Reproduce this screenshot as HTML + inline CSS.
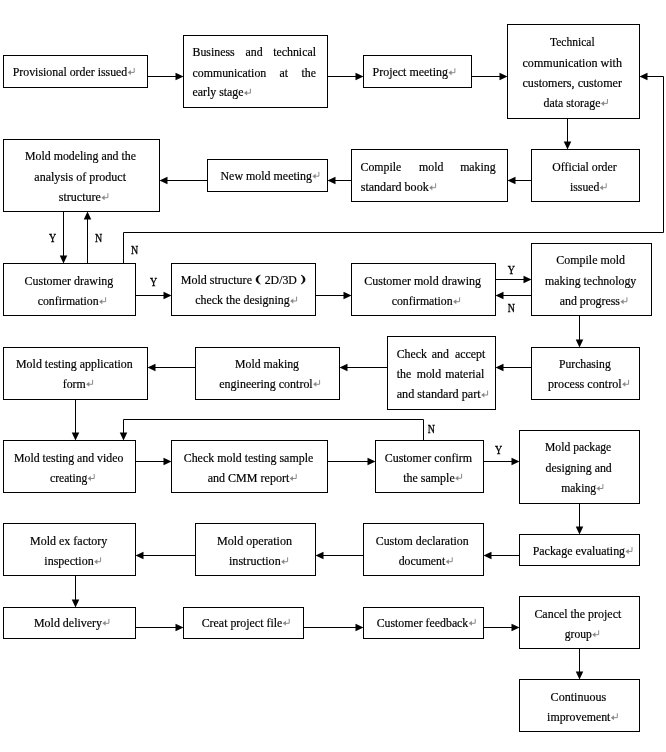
<!DOCTYPE html>
<html><head><meta charset="utf-8"><title>Flowchart</title>
<style>
html,body{margin:0;padding:0;background:#fff;}
body{width:666px;height:752px;overflow:hidden;}
svg{display:block;will-change:transform;}
text{font-family:"Liberation Serif",serif;font-size:13.5px;fill:#000;stroke:#000;stroke-width:0.2px;}
.yn{font-family:"Liberation Serif",serif;font-size:12.6px;stroke:#000;stroke-width:0.35px;}
</style></head><body>
<svg width="666" height="752" viewBox="0 0 666 752">
<rect width="666" height="752" fill="#fff"/>
<g fill="#fff" stroke="#000" stroke-width="1">
<rect x="3.5" y="55.5" width="144.0" height="32.0"/>
<rect x="183.5" y="35.5" width="144.0" height="72.0"/>
<rect x="363.5" y="55.5" width="108.0" height="32.0"/>
<rect x="507.5" y="24.5" width="132.0" height="94.0"/>
<rect x="3.5" y="139.5" width="156.0" height="72.0"/>
<rect x="207.5" y="159.5" width="120.0" height="32.0"/>
<rect x="351.5" y="149.5" width="156.0" height="52.0"/>
<rect x="531.5" y="149.5" width="108.0" height="52.0"/>
<rect x="3.5" y="263.5" width="132.0" height="52.0"/>
<rect x="171.5" y="263.5" width="144.0" height="52.0"/>
<rect x="351.5" y="263.5" width="144.0" height="52.0"/>
<rect x="531.5" y="243.5" width="120.0" height="72.0"/>
<rect x="3.5" y="347.5" width="144.0" height="52.0"/>
<rect x="195.5" y="347.5" width="144.0" height="52.0"/>
<rect x="387.5" y="336.5" width="108.0" height="73.0"/>
<rect x="531.5" y="347.5" width="108.0" height="52.0"/>
<rect x="3.5" y="440.5" width="132.0" height="52.0"/>
<rect x="171.5" y="440.5" width="156.0" height="52.0"/>
<rect x="375.5" y="440.5" width="108.0" height="52.0"/>
<rect x="519.5" y="430.5" width="120.0" height="73.0"/>
<rect x="3.5" y="523.5" width="132.0" height="52.0"/>
<rect x="195.5" y="523.5" width="120.0" height="52.0"/>
<rect x="363.5" y="523.5" width="120.0" height="52.0"/>
<rect x="519.5" y="534.5" width="120.0" height="31.0"/>
<rect x="3.5" y="607.5" width="132.0" height="31.0"/>
<rect x="183.5" y="607.5" width="120.0" height="31.0"/>
<rect x="363.5" y="607.5" width="120.0" height="31.0"/>
<rect x="519.5" y="596.5" width="120.0" height="52.0"/>
<rect x="519.5" y="679.5" width="120.0" height="52.0"/>
</g>
<g fill="none" stroke="#000" stroke-width="1">
<polyline points="147.50,76.50 180.50,76.50"/>
<polyline points="327.50,76.50 360.50,76.50"/>
<polyline points="471.50,76.50 504.50,76.50"/>
<polyline points="567.50,118.50 567.50,146.50"/>
<polyline points="531.50,180.50 510.50,180.50"/>
<polyline points="351.50,180.50 330.50,180.50"/>
<polyline points="207.50,180.50 162.50,180.50"/>
<polyline points="63.50,211.50 63.50,260.50"/>
<polyline points="87.50,263.50 87.50,214.50"/>
<polyline points="123.50,263.50 123.50,232.50 663.50,232.50 663.50,76.50 642.50,76.50"/>
<polyline points="135.50,295.50 168.50,295.50"/>
<polyline points="315.50,295.50 348.50,295.50"/>
<polyline points="495.50,279.50 528.50,279.50"/>
<polyline points="531.50,295.50 498.50,295.50"/>
<polyline points="579.50,315.50 579.50,344.50"/>
<polyline points="531.50,367.50 498.50,367.50"/>
<polyline points="387.50,367.50 342.50,367.50"/>
<polyline points="195.50,367.50 150.50,367.50"/>
<polyline points="75.50,399.50 75.50,437.50"/>
<polyline points="423.50,440.50 423.50,419.50 123.50,419.50 123.50,437.50"/>
<polyline points="135.50,461.50 168.50,461.50"/>
<polyline points="327.50,461.50 372.50,461.50"/>
<polyline points="483.50,461.50 516.50,461.50"/>
<polyline points="579.50,503.50 579.50,531.50"/>
<polyline points="519.50,555.50 486.50,555.50"/>
<polyline points="363.50,555.50 318.50,555.50"/>
<polyline points="195.50,555.50 138.50,555.50"/>
<polyline points="75.50,575.50 75.50,604.50"/>
<polyline points="135.50,627.50 180.50,627.50"/>
<polyline points="303.50,627.50 360.50,627.50"/>
<polyline points="483.50,627.50 516.50,627.50"/>
<polyline points="579.50,648.50 579.50,676.50"/>
</g>
<g fill="#000" stroke="none">
<polygon points="183.50,76.50 175.50,80.25 175.50,72.75"/>
<polygon points="363.50,76.50 355.50,80.25 355.50,72.75"/>
<polygon points="507.50,76.50 499.50,80.25 499.50,72.75"/>
<polygon points="567.50,149.50 563.75,141.50 571.25,141.50"/>
<polygon points="507.50,180.50 515.50,176.75 515.50,184.25"/>
<polygon points="327.50,180.50 335.50,176.75 335.50,184.25"/>
<polygon points="159.50,180.50 167.50,176.75 167.50,184.25"/>
<polygon points="63.50,263.50 59.75,255.50 67.25,255.50"/>
<polygon points="87.50,211.50 91.25,219.50 83.75,219.50"/>
<polygon points="639.50,76.50 647.50,72.75 647.50,80.25"/>
<polygon points="171.50,295.50 163.50,299.25 163.50,291.75"/>
<polygon points="351.50,295.50 343.50,299.25 343.50,291.75"/>
<polygon points="531.50,279.50 523.50,283.25 523.50,275.75"/>
<polygon points="495.50,295.50 503.50,291.75 503.50,299.25"/>
<polygon points="579.50,347.50 575.75,339.50 583.25,339.50"/>
<polygon points="495.50,367.50 503.50,363.75 503.50,371.25"/>
<polygon points="339.50,367.50 347.50,363.75 347.50,371.25"/>
<polygon points="147.50,367.50 155.50,363.75 155.50,371.25"/>
<polygon points="75.50,440.50 71.75,432.50 79.25,432.50"/>
<polygon points="123.50,440.50 119.75,432.50 127.25,432.50"/>
<polygon points="171.50,461.50 163.50,465.25 163.50,457.75"/>
<polygon points="375.50,461.50 367.50,465.25 367.50,457.75"/>
<polygon points="519.50,461.50 511.50,465.25 511.50,457.75"/>
<polygon points="579.50,534.50 575.75,526.50 583.25,526.50"/>
<polygon points="483.50,555.50 491.50,551.75 491.50,559.25"/>
<polygon points="315.50,555.50 323.50,551.75 323.50,559.25"/>
<polygon points="135.50,555.50 143.50,551.75 143.50,559.25"/>
<polygon points="75.50,607.50 71.75,599.50 79.25,599.50"/>
<polygon points="183.50,627.50 175.50,631.25 175.50,623.75"/>
<polygon points="363.50,627.50 355.50,631.25 355.50,623.75"/>
<polygon points="519.50,627.50 511.50,631.25 511.50,623.75"/>
<polygon points="579.50,679.50 575.75,671.50 583.25,671.50"/>
</g>
<g>
<text x="12.70" y="75.70" textLength="114.60" lengthAdjust="spacingAndGlyphs">Provisional order issued</text>
<g stroke="#8a8a8a" stroke-width="1" fill="none"><path d="M134.20,68.00 V72.40 H129.80"/></g><polygon fill="#8a8a8a" points="127.70,72.40 130.90,69.90 130.90,74.90"/>
<text x="192.50" y="56.00" textLength="42.17" lengthAdjust="spacingAndGlyphs">Business</text>
<text x="245.50" y="56.00" textLength="17.13" lengthAdjust="spacingAndGlyphs">and</text>
<text x="273.21" y="56.00" textLength="42.79" lengthAdjust="spacingAndGlyphs">technical</text>
<text x="192.50" y="76.70" textLength="73.76" lengthAdjust="spacingAndGlyphs">communication</text>
<text x="279.50" y="76.70" textLength="8.56" lengthAdjust="spacingAndGlyphs">at</text>
<text x="301.51" y="76.70" textLength="14.49" lengthAdjust="spacingAndGlyphs">the</text>
<text x="192.50" y="96.40" textLength="51.00" lengthAdjust="spacingAndGlyphs">early stage</text>
<g stroke="#8a8a8a" stroke-width="1" fill="none"><path d="M250.40,88.70 V93.10 H246.00"/></g><polygon fill="#8a8a8a" points="243.90,93.10 247.10,90.60 247.10,95.60"/>
<text x="372.50" y="76.00" textLength="75.50" lengthAdjust="spacingAndGlyphs">Project meeting</text>
<g stroke="#8a8a8a" stroke-width="1" fill="none"><path d="M454.90,68.30 V72.70 H450.50"/></g><polygon fill="#8a8a8a" points="448.40,72.70 451.60,70.20 451.60,75.20"/>
<text x="550.00" y="46.00" textLength="44.70" lengthAdjust="spacingAndGlyphs">Technical</text>
<text x="522.50" y="67.00" textLength="99.50" lengthAdjust="spacingAndGlyphs">communication with</text>
<text x="522.50" y="87.00" textLength="99.50" lengthAdjust="spacingAndGlyphs">customers, customer</text>
<text x="543.50" y="106.70" textLength="57.00" lengthAdjust="spacingAndGlyphs">data storage</text>
<g stroke="#8a8a8a" stroke-width="1" fill="none"><path d="M607.40,99.00 V103.40 H603.00"/></g><polygon fill="#8a8a8a" points="600.90,103.40 604.10,100.90 604.10,105.90"/>
<text x="25.00" y="160.00" textLength="111.00" lengthAdjust="spacingAndGlyphs">Mold modeling and the</text>
<text x="34.30" y="181.00" textLength="91.70" lengthAdjust="spacingAndGlyphs">analysis of product</text>
<text x="58.70" y="201.00" textLength="42.30" lengthAdjust="spacingAndGlyphs">structure</text>
<g stroke="#8a8a8a" stroke-width="1" fill="none"><path d="M107.90,193.30 V197.70 H103.50"/></g><polygon fill="#8a8a8a" points="101.40,197.70 104.60,195.20 104.60,200.20"/>
<text x="220.50" y="179.50" textLength="91.50" lengthAdjust="spacingAndGlyphs">New mold meeting</text>
<g stroke="#8a8a8a" stroke-width="1" fill="none"><path d="M318.90,171.80 V176.20 H314.50"/></g><polygon fill="#8a8a8a" points="312.40,176.20 315.60,173.70 315.60,178.70"/>
<text x="360.50" y="170.50" textLength="40.84" lengthAdjust="spacingAndGlyphs">Compile</text>
<text x="419.00" y="170.50" textLength="24.38" lengthAdjust="spacingAndGlyphs">mold</text>
<text x="460.13" y="170.50" textLength="35.57" lengthAdjust="spacingAndGlyphs">making</text>
<text x="360.70" y="191.00" textLength="68.00" lengthAdjust="spacingAndGlyphs">standard book</text>
<g stroke="#8a8a8a" stroke-width="1" fill="none"><path d="M435.60,183.30 V187.70 H431.20"/></g><polygon fill="#8a8a8a" points="429.10,187.70 432.30,185.20 432.30,190.20"/>
<text x="552.30" y="170.50" textLength="64.40" lengthAdjust="spacingAndGlyphs">Official order</text>
<text x="570.00" y="191.00" textLength="29.30" lengthAdjust="spacingAndGlyphs">issued</text>
<g stroke="#8a8a8a" stroke-width="1" fill="none"><path d="M606.20,183.30 V187.70 H601.80"/></g><polygon fill="#8a8a8a" points="599.70,187.70 602.90,185.20 602.90,190.20"/>
<text x="24.50" y="284.80" textLength="88.80" lengthAdjust="spacingAndGlyphs">Customer drawing</text>
<text x="37.70" y="305.00" textLength="61.00" lengthAdjust="spacingAndGlyphs">confirmation</text>
<g stroke="#8a8a8a" stroke-width="1" fill="none"><path d="M105.60,297.30 V301.70 H101.20"/></g><polygon fill="#8a8a8a" points="99.10,301.70 102.30,299.20 102.30,304.20"/>
<text x="180.70" y="284.00" textLength="71.30" lengthAdjust="spacingAndGlyphs">Mold structure</text>
<text x="264.70" y="284.00" textLength="32.20" lengthAdjust="spacingAndGlyphs">2D/3D</text>
<text x="195.30" y="304.30" textLength="94.40" lengthAdjust="spacingAndGlyphs">check the designing</text>
<g stroke="#8a8a8a" stroke-width="1" fill="none"><path d="M296.60,296.60 V301.00 H292.20"/></g><polygon fill="#8a8a8a" points="290.10,301.00 293.30,298.50 293.30,303.50"/>
<text x="364.30" y="284.80" textLength="116.70" lengthAdjust="spacingAndGlyphs">Customer mold drawing</text>
<text x="391.70" y="305.00" textLength="61.00" lengthAdjust="spacingAndGlyphs">confirmation</text>
<g stroke="#8a8a8a" stroke-width="1" fill="none"><path d="M459.60,297.30 V301.70 H455.20"/></g><polygon fill="#8a8a8a" points="453.10,301.70 456.30,299.20 456.30,304.20"/>
<text x="556.30" y="264.00" textLength="68.70" lengthAdjust="spacingAndGlyphs">Compile mold</text>
<text x="545.00" y="284.80" textLength="91.30" lengthAdjust="spacingAndGlyphs">making technology</text>
<text x="559.70" y="305.00" textLength="60.30" lengthAdjust="spacingAndGlyphs">and progress</text>
<g stroke="#8a8a8a" stroke-width="1" fill="none"><path d="M626.90,297.30 V301.70 H622.50"/></g><polygon fill="#8a8a8a" points="620.40,301.70 623.60,299.20 623.60,304.20"/>
<text x="16.00" y="367.70" textLength="116.70" lengthAdjust="spacingAndGlyphs">Mold testing application</text>
<text x="62.70" y="387.60" textLength="23.00" lengthAdjust="spacingAndGlyphs">form</text>
<g stroke="#8a8a8a" stroke-width="1" fill="none"><path d="M92.60,379.90 V384.30 H88.20"/></g><polygon fill="#8a8a8a" points="86.10,384.30 89.30,381.80 89.30,386.80"/>
<text x="235.00" y="367.70" textLength="64.00" lengthAdjust="spacingAndGlyphs">Mold making</text>
<text x="219.30" y="387.60" textLength="93.40" lengthAdjust="spacingAndGlyphs">engineering control</text>
<g stroke="#8a8a8a" stroke-width="1" fill="none"><path d="M319.60,379.90 V384.30 H315.20"/></g><polygon fill="#8a8a8a" points="313.10,384.30 316.30,381.80 316.30,386.80"/>
<text x="396.70" y="357.80" textLength="30.30" lengthAdjust="spacingAndGlyphs">Check</text>
<text x="431.70" y="357.80" textLength="17.13" lengthAdjust="spacingAndGlyphs">and</text>
<text x="455.02" y="357.80" textLength="30.28" lengthAdjust="spacingAndGlyphs">accept</text>
<text x="396.70" y="378.20" textLength="14.49" lengthAdjust="spacingAndGlyphs">the</text>
<text x="416.70" y="378.20" textLength="24.38" lengthAdjust="spacingAndGlyphs">mold</text>
<text x="445.35" y="378.20" textLength="38.85" lengthAdjust="spacingAndGlyphs">material</text>
<text x="396.70" y="398.30" textLength="84.00" lengthAdjust="spacingAndGlyphs">and standard part</text>
<g stroke="#8a8a8a" stroke-width="1" fill="none"><path d="M487.60,390.60 V395.00 H483.20"/></g><polygon fill="#8a8a8a" points="481.10,395.00 484.30,392.50 484.30,397.50"/>
<text x="559.00" y="367.70" textLength="51.70" lengthAdjust="spacingAndGlyphs">Purchasing</text>
<text x="548.00" y="387.60" textLength="73.70" lengthAdjust="spacingAndGlyphs">process control</text>
<g stroke="#8a8a8a" stroke-width="1" fill="none"><path d="M628.60,379.90 V384.30 H624.20"/></g><polygon fill="#8a8a8a" points="622.10,384.30 625.30,381.80 625.30,386.80"/>
<text x="14.00" y="461.80" textLength="109.30" lengthAdjust="spacingAndGlyphs">Mold testing and video</text>
<text x="50.00" y="481.80" textLength="37.30" lengthAdjust="spacingAndGlyphs">creating</text>
<g stroke="#8a8a8a" stroke-width="1" fill="none"><path d="M94.20,474.10 V478.50 H89.80"/></g><polygon fill="#8a8a8a" points="87.70,478.50 90.90,476.00 90.90,481.00"/>
<text x="183.70" y="461.80" textLength="129.60" lengthAdjust="spacingAndGlyphs">Check mold testing sample</text>
<text x="207.70" y="481.80" textLength="81.60" lengthAdjust="spacingAndGlyphs">and CMM report</text>
<g stroke="#8a8a8a" stroke-width="1" fill="none"><path d="M296.20,474.10 V478.50 H291.80"/></g><polygon fill="#8a8a8a" points="289.70,478.50 292.90,476.00 292.90,481.00"/>
<text x="384.70" y="461.80" textLength="87.30" lengthAdjust="spacingAndGlyphs">Customer confirm</text>
<text x="403.30" y="481.50" textLength="51.40" lengthAdjust="spacingAndGlyphs">the sample</text>
<g stroke="#8a8a8a" stroke-width="1" fill="none"><path d="M461.60,473.80 V478.20 H457.20"/></g><polygon fill="#8a8a8a" points="455.10,478.20 458.30,475.70 458.30,480.70"/>
<text x="545.00" y="451.00" textLength="66.30" lengthAdjust="spacingAndGlyphs">Mold package</text>
<text x="545.60" y="471.60" textLength="66.20" lengthAdjust="spacingAndGlyphs">designing and</text>
<text x="561.20" y="491.80" textLength="34.80" lengthAdjust="spacingAndGlyphs">making</text>
<g stroke="#8a8a8a" stroke-width="1" fill="none"><path d="M602.90,484.10 V488.50 H598.50"/></g><polygon fill="#8a8a8a" points="596.40,488.50 599.60,486.00 599.60,491.00"/>
<text x="30.00" y="545.00" textLength="77.30" lengthAdjust="spacingAndGlyphs">Mold ex factory</text>
<text x="44.30" y="565.00" textLength="49.40" lengthAdjust="spacingAndGlyphs">inspection</text>
<g stroke="#8a8a8a" stroke-width="1" fill="none"><path d="M100.60,557.30 V561.70 H96.20"/></g><polygon fill="#8a8a8a" points="94.10,561.70 97.30,559.20 97.30,564.20"/>
<text x="217.00" y="545.00" textLength="75.00" lengthAdjust="spacingAndGlyphs">Mold operation</text>
<text x="229.00" y="565.00" textLength="51.70" lengthAdjust="spacingAndGlyphs">instruction</text>
<g stroke="#8a8a8a" stroke-width="1" fill="none"><path d="M287.60,557.30 V561.70 H283.20"/></g><polygon fill="#8a8a8a" points="281.10,561.70 284.30,559.20 284.30,564.20"/>
<text x="375.70" y="545.00" textLength="93.00" lengthAdjust="spacingAndGlyphs">Custom declaration</text>
<text x="398.70" y="565.00" textLength="46.60" lengthAdjust="spacingAndGlyphs">document</text>
<g stroke="#8a8a8a" stroke-width="1" fill="none"><path d="M452.20,557.30 V561.70 H447.80"/></g><polygon fill="#8a8a8a" points="445.70,561.70 448.90,559.20 448.90,564.20"/>
<text x="532.70" y="554.70" textLength="92.40" lengthAdjust="spacingAndGlyphs">Package evaluating</text>
<g stroke="#8a8a8a" stroke-width="1" fill="none"><path d="M632.00,547.00 V551.40 H627.60"/></g><polygon fill="#8a8a8a" points="625.50,551.40 628.70,548.90 628.70,553.90"/>
<text x="34.00" y="626.60" textLength="68.00" lengthAdjust="spacingAndGlyphs">Mold delivery</text>
<g stroke="#8a8a8a" stroke-width="1" fill="none"><path d="M108.90,618.90 V623.30 H104.50"/></g><polygon fill="#8a8a8a" points="102.40,623.30 105.60,620.80 105.60,625.80"/>
<text x="201.70" y="626.60" textLength="80.60" lengthAdjust="spacingAndGlyphs">Creat project file</text>
<g stroke="#8a8a8a" stroke-width="1" fill="none"><path d="M289.20,618.90 V623.30 H284.80"/></g><polygon fill="#8a8a8a" points="282.70,623.30 285.90,620.80 285.90,625.80"/>
<text x="376.70" y="626.60" textLength="91.60" lengthAdjust="spacingAndGlyphs">Customer feedback</text>
<g stroke="#8a8a8a" stroke-width="1" fill="none"><path d="M475.20,618.90 V623.30 H470.80"/></g><polygon fill="#8a8a8a" points="468.70,623.30 471.90,620.80 471.90,625.80"/>
<text x="534.40" y="617.60" textLength="86.90" lengthAdjust="spacingAndGlyphs">Cancel the project</text>
<text x="564.80" y="638.00" textLength="27.00" lengthAdjust="spacingAndGlyphs">group</text>
<g stroke="#8a8a8a" stroke-width="1" fill="none"><path d="M598.70,630.30 V634.70 H594.30"/></g><polygon fill="#8a8a8a" points="592.20,634.70 595.40,632.20 595.40,637.20"/>
<text x="550.60" y="700.50" textLength="55.70" lengthAdjust="spacingAndGlyphs">Continuous</text>
<text x="547.10" y="721.00" textLength="63.30" lengthAdjust="spacingAndGlyphs">improvement</text>
<g stroke="#8a8a8a" stroke-width="1" fill="none"><path d="M617.30,713.30 V717.70 H612.90"/></g><polygon fill="#8a8a8a" points="610.80,717.70 614.00,715.20 614.00,720.20"/>
<path fill="#000" stroke="#000" stroke-width="0.5" d="M260.4,275.1 C254.5,276.6 254.5,282.7 260.4,284.1 C257.1,282 257.1,277.2 260.4,275.1 Z M301,275.1 C306.5,276.6 306.5,282.7 301,284.1 C304,282 304,277.2 301,275.1 Z"/>
</g>
<g class="yn">
<text class="yn" x="48.90" y="241.50" textLength="7.2" lengthAdjust="spacingAndGlyphs">Y</text>
<text class="yn" x="94.90" y="241.90" textLength="7.2" lengthAdjust="spacingAndGlyphs">N</text>
<text class="yn" x="130.90" y="253.90" textLength="7.2" lengthAdjust="spacingAndGlyphs">N</text>
<text class="yn" x="149.90" y="286.40" textLength="7.2" lengthAdjust="spacingAndGlyphs">Y</text>
<text class="yn" x="507.80" y="273.50" textLength="7.2" lengthAdjust="spacingAndGlyphs">Y</text>
<text class="yn" x="507.80" y="311.60" textLength="7.2" lengthAdjust="spacingAndGlyphs">N</text>
<text class="yn" x="427.70" y="432.50" textLength="7.2" lengthAdjust="spacingAndGlyphs">N</text>
<text class="yn" x="495.00" y="454.00" textLength="7.2" lengthAdjust="spacingAndGlyphs">Y</text>
</g>
</svg>
</body></html>
